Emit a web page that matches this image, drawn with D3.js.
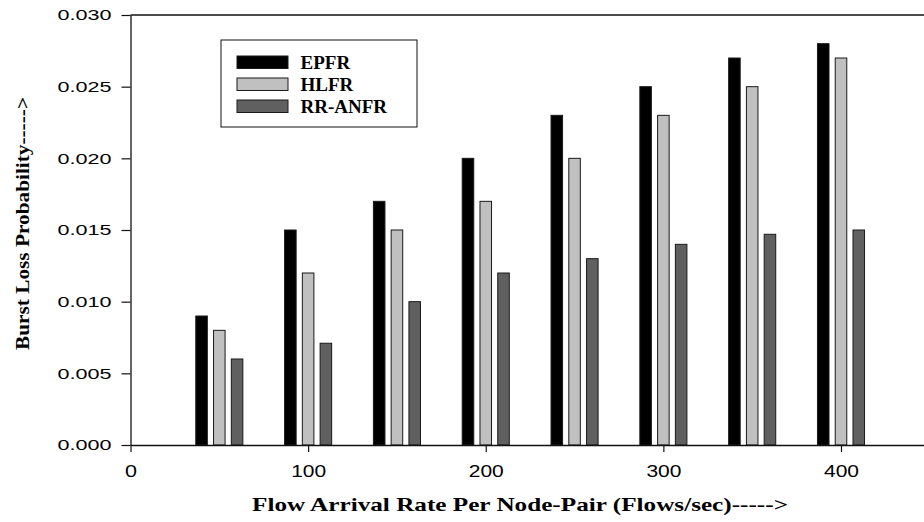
<!DOCTYPE html>
<html>
<head>
<meta charset="utf-8">
<script src="https://cdn.jsdelivr.net/npm/d3@7"></script>
<style>
  html, body { margin: 0; padding: 0; background: #fff; }
  svg { display: block; }
</style>
</head>
<body>
<svg id="chart" width="924" height="522"></svg>
<script>
// ---- data ----
const rates = [50, 100, 150, 200, 250, 300, 350, 400];
const epfr = [0.009, 0.015, 0.017, 0.020, 0.023, 0.025, 0.027, 0.028];
const hlfr = [0.008, 0.012, 0.015, 0.017, 0.020, 0.023, 0.025, 0.027];
const rranfr = [0.006, 0.0071, 0.010, 0.012, 0.013, 0.014, 0.0147, 0.015];
const seriesNames = ["EPFR", "HLFR", "RR-ANFR"];
const xTicks = [0, 100, 200, 300, 400];
const yTicks = [0, 0.005, 0.010, 0.015, 0.020, 0.025, 0.030];

const series = [
  { name: seriesNames[0], values: epfr, offset: -10, color: "#000000" },
  { name: seriesNames[1], values: hlfr, offset: 0, color: "#c0c0c0" },
  { name: seriesNames[2], values: rranfr, offset: 10, color: "#606060" }
];

const svg = d3.select("#chart");
const plotLeft = 130.5, plotTop = 15, plotBottom = 445;
const x = d3.scaleLinear().domain([0, 450]).range([plotLeft, plotLeft + 450 * 1.77625]);
const y = d3.scaleLinear().domain([0, 0.030]).range([plotBottom, plotTop]);
const barW = 6.5; // in x units

// bars
series.forEach(s => {
  svg.append("g").selectAll("rect")
    .data(rates.map((r, i) => ({ r, v: s.values[i] })))
    .join("rect")
    .attr("x", d => x(d.r + s.offset - barW / 2))
    .attr("width", d => x(d.r + s.offset + barW / 2) - x(d.r + s.offset - barW / 2))
    .attr("y", d => y(d.v))
    .attr("height", d => y(0) - y(d.v))
    .attr("fill", s.color)
    .attr("stroke", "#1a1a1a")
    .attr("stroke-width", 1);
});

// frame top line
svg.append("line")
  .attr("x1", plotLeft).attr("x2", 930)
  .attr("y1", plotTop).attr("y2", plotTop)
  .attr("stroke", "#111").attr("stroke-width", 1.3);

// y axis
const yAxis = svg.append("g")
  .attr("transform", `translate(${plotLeft},0)`)
  .call(d3.axisLeft(y).tickValues(yTicks).tickFormat(d3.format(".3f")).tickSize(9).tickSizeOuter(0));
yAxis.select(".domain").attr("stroke", "#111").attr("stroke-width", 1.3);
yAxis.selectAll(".tick line").attr("stroke", "#111").attr("stroke-width", 1.2);
yAxis.selectAll(".tick text")
  .attr("x", -19)
  .attr("font-family", "'Liberation Sans', Arial, sans-serif")
  .attr("font-size", 15)
  .attr("fill", "#000")
  .attr("textLength", 54)
  .attr("lengthAdjust", "spacingAndGlyphs");

// x axis
const xAxis = svg.append("g")
  .attr("transform", `translate(0,${plotBottom})`)
  .call(d3.axisBottom(x).tickValues(xTicks).tickFormat(d3.format("d")).tickSize(7).tickSizeOuter(0));
xAxis.select(".domain").attr("stroke", "#111").attr("stroke-width", 1.3);
xAxis.selectAll(".tick line").attr("stroke", "#111").attr("stroke-width", 1.2);
xAxis.selectAll(".tick text")
  .attr("y", 20)
  .attr("font-family", "'Liberation Sans', Arial, sans-serif")
  .attr("font-size", 16.5)
  .attr("fill", "#000")
  .attr("textLength", d => d === 0 ? 12 : 35)
  .attr("lengthAdjust", "spacingAndGlyphs");

// axis titles
svg.append("text")
  .attr("x", 520).attr("y", 511)
  .attr("text-anchor", "middle")
  .attr("font-family", "'Liberation Serif', 'Times New Roman', serif")
  .attr("font-weight", "bold")
  .attr("font-size", 19.5)
  .attr("textLength", 536)
  .attr("lengthAdjust", "spacingAndGlyphs")
  .text("Flow Arrival Rate Per Node-Pair (Flows/sec)----->");

svg.append("text")
  .attr("transform", "translate(29,223.5) rotate(-90)")
  .attr("text-anchor", "middle")
  .attr("font-family", "'Liberation Serif', 'Times New Roman', serif")
  .attr("font-weight", "bold")
  .attr("font-size", 19)
  .attr("textLength", 253)
  .attr("lengthAdjust", "spacingAndGlyphs")
  .text("Burst Loss Probability----->");

// legend
const lg = svg.append("g");
lg.append("rect")
  .attr("x", 221).attr("y", 40).attr("width", 196).attr("height", 87)
  .attr("fill", "#fff").attr("stroke", "#111").attr("stroke-width", 1);
series.forEach((s, i) => {
  lg.append("rect")
    .attr("x", 237).attr("y", 56 + i * 22).attr("width", 51).attr("height", 12.5)
    .attr("fill", s.color).attr("stroke", "#1a1a1a").attr("stroke-width", 1);
  lg.append("text")
    .attr("x", 300.5).attr("y", 69.3 + i * 22)
    .attr("font-family", "'Liberation Serif', 'Times New Roman', serif")
    .attr("font-weight", "bold")
    .attr("font-size", 19)
    .text(s.name);
});
</script>
</body>
</html>
